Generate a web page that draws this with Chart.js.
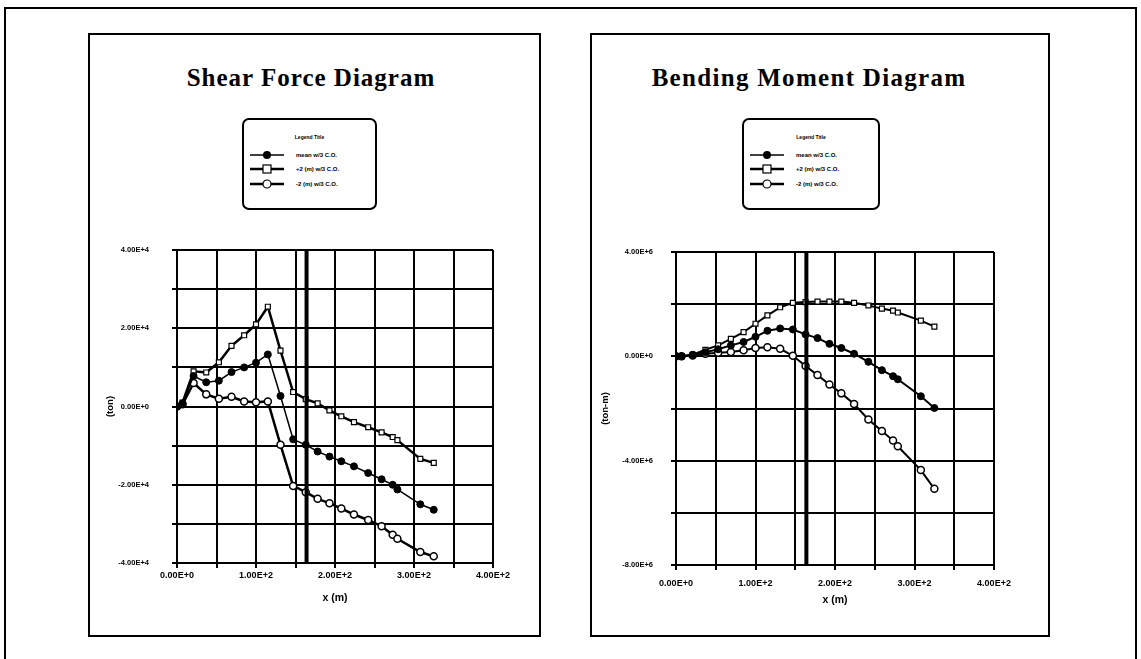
<!DOCTYPE html>
<html>
<head>
<meta charset="utf-8">
<script src="https://cdn.jsdelivr.net/npm/chart.js@4.4.0/dist/chart.umd.min.js"></script>
<style>
  html, body { margin: 0; padding: 0; background: #fff; }
  body { width: 1141px; height: 659px; position: relative; overflow: hidden; font-family: "Liberation Sans", Arial, sans-serif; }
  .frame { position: absolute; left: 4px; top: 7px; width: 1129px; height: 700px; border: 2px solid #000; }
  .panel { position: absolute; top: 33px; height: 600px; border: 2px solid #000; }
  .title { position: absolute; top: 64px; font-family: "Liberation Serif", "Times New Roman", serif; font-weight: bold; font-size: 25px; letter-spacing: 1px; white-space: nowrap; transform: translateX(-50%); }
  .legend { position: absolute; top: 118px; height: 88px; border: 2px solid #000; border-radius: 7px; }
  .legend .lt { position: absolute; top: 14px; width: 100%; text-align: center; font-size: 5px; font-weight: bold; }
  .legend .row { position: absolute; left: 6px; height: 12px; display: flex; align-items: center; font-size: 6px; font-weight: bold; white-space: nowrap; }
  .legend svg { margin-right: 12px; }
  canvas { position: absolute; }
</style>
</head>
<body>
<div class="frame"></div>
<div class="panel" style="left:88px;width:449px;"></div>
<div class="panel" style="left:590px;width:456px;"></div>

<div class="title" style="left:311px;">Shear Force Diagram</div>
<div class="title" style="left:809px;letter-spacing:1.3px;">Bending Moment Diagram</div>

<div class="legend" id="leg1" style="left:242px;width:131px;"></div>
<div class="legend" id="leg2" style="left:742px;width:134px;"></div>

<canvas id="shear" width="449" height="600" style="left:90px;top:35px;width:449px;height:600px;"></canvas>
<canvas id="moment" width="456" height="600" style="left:592px;top:35px;width:456px;height:600px;"></canvas>

<script>
// stations along the hull (m)
const stations = [0, 7, 21, 37, 53, 69, 85, 100, 115, 131, 147, 163, 178, 193, 208, 224, 242, 259, 273, 279, 308, 325];

// shear force (ton)
const shearMean = [0, 800, 7800, 6200, 6600, 8800, 10000, 11200, 13300, 2700, -8400, -9800, -11500, -12800, -14000, -15300, -17000, -18600, -20000, -21200, -25000, -26400];
const shearPlus2 = [0, 1000, 9000, 8700, 11300, 15500, 18200, 21000, 25500, 14300, 3700, 1900, 800, -1000, -2500, -4000, -5300, -6600, -7800, -8600, -13400, -14400];
const shearMinus2 = [0, 600, 6000, 3100, 2000, 2500, 1300, 1100, 1300, -9800, -20300, -21900, -23600, -24700, -26100, -27600, -29000, -30600, -32800, -33800, -37200, -38300];

// bending moment (ton-m)
const momentMean = [0, 0, 60000, 160000, 270000, 420000, 550000, 750000, 980000, 1070000, 1030000, 840000, 700000, 480000, 320000, 100000, -210000, -530000, -760000, -880000, -1530000, -1980000];
const momentPlus2 = [0, 0, 60000, 250000, 420000, 670000, 930000, 1250000, 1570000, 1880000, 2050000, 2080000, 2100000, 2100000, 2100000, 2050000, 1950000, 1830000, 1750000, 1680000, 1370000, 1140000];
const momentMinus2 = [0, 0, 30000, 100000, 140000, 170000, 230000, 320000, 350000, 290000, 20000, -370000, -720000, -1080000, -1420000, -1830000, -2420000, -2860000, -3230000, -3450000, -4360000, -5080000];

// midship marker line
const midshipX = 164;

const seriesNames = ['mean  w/3 C.O.', '+2 (m)  w/3 C.O.', '-2 (m)  w/3 C.O.'];

function sci(v) {
  if (v === 0) return '0.00E+0';
  const e = Math.floor(Math.log10(Math.abs(v)) + 1e-9);
  const m = v / Math.pow(10, e);
  return m.toFixed(2) + 'E+' + e;
}

function pts(xs, ys) {
  return xs.map((x, i) => ({ x: x, y: ys[i] }));
}

// legend rows
const legSvg = [
  '<svg width="34" height="10"><line x1="0" y1="5" x2="34" y2="5" stroke="#000" stroke-width="1.5"/><circle cx="17" cy="5" r="4" fill="#000"/></svg>',
  '<svg width="34" height="10"><line x1="0" y1="5" x2="34" y2="5" stroke="#000" stroke-width="2.5"/><rect x="13" y="1" width="8" height="8" fill="#fff" stroke="#000" stroke-width="1.2"/></svg>',
  '<svg width="34" height="10"><line x1="0" y1="5" x2="34" y2="5" stroke="#000" stroke-width="2.5"/><circle cx="17" cy="5" r="4" fill="#fff" stroke="#000" stroke-width="1.2"/></svg>'
];
['leg1', 'leg2'].forEach(id => {
  const el = document.getElementById(id);
  let html = '<div class="lt">Legend Title</div>';
  [35, 49, 64].forEach((top, i) => {
    html += '<div class="row" style="top:' + (top - 6) + 'px">' + legSvg[i] + seriesNames[i] + '</div>';
  });
  el.innerHTML = html;
});

function makeChart(canvasId, xs, mean, plus2, minus2, yMin, yMax, yStep, yLabelEvery, yTitle, opts) {
  const ctx = document.getElementById(canvasId).getContext('2d');
  return new Chart(ctx, {
    type: 'scatter',
    data: {
      datasets: [
        {
          label: 'midship',
          data: [{ x: midshipX, y: yMin }, { x: midshipX, y: yMax }],
          showLine: true,
          borderColor: '#000',
          borderWidth: 4,
          pointRadius: 0
        },
        {
          label: seriesNames[0],
          data: pts(xs, mean),
          showLine: true,
          borderColor: '#000',
          borderWidth: opts.meanWidth,
          pointStyle: 'circle',
          pointRadius: 3.5,
          pointBackgroundColor: '#000',
          pointBorderColor: '#000',
          pointBorderWidth: 1
        },
        {
          label: seriesNames[1],
          data: pts(xs, plus2),
          showLine: true,
          borderColor: '#000',
          borderWidth: opts.sideWidth,
          pointStyle: 'rect',
          pointRadius: 3.5,
          pointBackgroundColor: '#fff',
          pointBorderColor: '#000',
          pointBorderWidth: 1.2
        },
        {
          label: seriesNames[2],
          data: pts(xs, minus2),
          showLine: true,
          borderColor: '#000',
          borderWidth: opts.sideWidth,
          pointStyle: 'circle',
          pointRadius: 3.5,
          pointBackgroundColor: '#fff',
          pointBorderColor: '#000',
          pointBorderWidth: 1.5
        }
      ]
    },
    options: {
      responsive: false,
      animation: false,
      layout: { padding: { left: 0, top: opts.top, right: opts.right, bottom: opts.bottom } },
      plugins: { legend: { display: false }, tooltip: { enabled: false } },
      scales: {
        x: {
          type: 'linear',
          min: 0,
          max: 400,
          afterFit: s => { s.height = opts.xHeight; },
          ticks: {
            stepSize: 50,
            color: '#000',
            padding: opts.xTickPad,
            maxRotation: 0,
            font: { family: 'Liberation Sans', size: 9, weight: 'bold' },
            callback: v => (v % 100 === 0 ? sci(v) : '')
          },
          grid: { color: '#000', lineWidth: 2, tickLength: 5, drawTicks: true },
          border: { color: '#000', width: 2 },
          title: {
            display: true,
            text: 'x (m)',
            color: '#000',
            font: { family: 'Liberation Sans', size: 10.5, weight: 'bold' },
            padding: { top: 0, bottom: opts.xTitlePad }
          }
        },
        y: {
          type: 'linear',
          min: yMin,
          max: yMax,
          afterFit: s => { s.width = opts.yWidth; },
          ticks: {
            stepSize: yStep,
            color: '#000',
            padding: opts.yTickPad,
            font: { family: 'Liberation Sans', size: 7.5, weight: 'bold' },
            callback: v => (Math.round(v / yStep) % yLabelEvery === 0 ? sci(v) : '')
          },
          grid: { color: '#000', lineWidth: 2, tickLength: 5 },
          border: { color: '#000', width: 2 },
          title: {
            display: true,
            text: yTitle,
            color: '#000',
            font: { family: 'Liberation Sans', size: 9.5, weight: 'bold' },
            padding: { top: opts.yTitlePad, bottom: 0 }
          }
        }
      }
    }
  });
}

makeChart('shear', stations, shearMean, shearPlus2, shearMinus2, -40000, 40000, 10000, 2, '(ton)', {
  top: 215, right: 46, bottom: 22, xHeight: 50, yWidth: 87,
  xTickPad: 2, xTitlePad: 9, yTickPad: 23, yTitlePad: 15,
  meanWidth: 1.5, sideWidth: 2.5
});

makeChart('moment', stations, momentMean, momentPlus2, momentMinus2, -8000000, 4000000, 2000000, 2, '(ton-m)', {
  top: 217, right: 54, bottom: 20, xHeight: 50, yWidth: 84,
  xTickPad: 8, xTitlePad: 9, yTickPad: 18, yTitlePad: 8,
  meanWidth: 2, sideWidth: 2
});
</script>
</body>
</html>
